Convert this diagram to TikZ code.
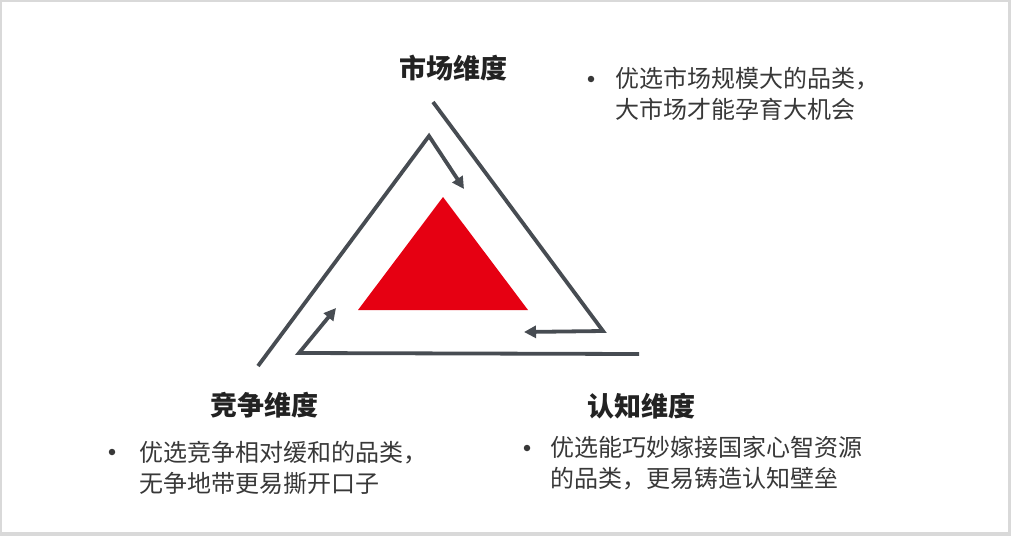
\documentclass[tikz,border=0pt]{standalone}
\usepackage{fontspec}
\setmainfont{Noto Sans CJK SC}
\usepackage{tikz}
\usetikzlibrary{arrows.meta}
\usepackage{xcolor}
\definecolor{lineGray}{HTML}{474C52}
\definecolor{coreRed}{HTML}{E60012}
\definecolor{frameGray}{HTML}{D9D9D9}
\definecolor{titleInk}{HTML}{222222}
\definecolor{bodyInk}{HTML}{383838}
\tikzset{
    flow/.style={
        draw=lineGray,
        line width=3.8pt,
        -{Triangle[length=12pt, width=12pt]}
    },
    dimtitle/.style={
        font=\bfseries\fontsize{27}{30}\selectfont,
        text=titleInk,
        inner sep=0pt
    },
    dimtext/.style={
        font=\fontsize{24}{30.5}\selectfont,
        text=bodyInk,
        align=left,
        anchor=west,
        inner sep=0pt
    },
    dot/.style={
        circle,
        fill=bodyInk,
        minimum size=6.5pt,
        inner sep=0pt
    }
}

\begin{document}
\begin{tikzpicture}[x=1pt, y=-1pt]
  % Frame
  \fill[frameGray] (0,0) rectangle (1011,536);
  \fill[white] (1.7,1.5) rectangle (1007.5,532.3);
  \useasboundingbox (0,0) rectangle (1011,536);

  % Corner points of the three arrows
  \coordinate (mStart) at (433,102);
  \coordinate (mBend) at (603,331);
  \coordinate (mEnd) at (524,332);
  \coordinate (rStart) at (639,354);
  \coordinate (rBend) at (299,353);
  \coordinate (rEnd) at (336,308);
  \coordinate (cStart) at (258,366);
  \coordinate (cBend) at (429,136);
  \coordinate (cEnd) at (464,189);

  % Arrows
  \draw[flow] (mStart) -- (mBend) -- (mEnd);
  \draw[flow] (rStart) -- (rBend) -- (rEnd);
  \draw[flow] (cStart) -- (cBend) -- (cEnd);

  % Red core
  \fill[coreRed] (443,197) -- (358,310) -- (528,310) -- cycle;

  % Market dimension
  \node[dimtitle] (market) at (453,68) {市场维度};
  \node[dot] (marketDot) at (591,79) {};
  \node[dimtext] (marketText) at (615,94) {优选市场规模大的品类，\\大市场才能孕育大机会};

  % Competition dimension
  \node[dimtitle] (compete) at (264,405) {竞争维度};
  \node[dot] (competeDot) at (112,452) {};
  \node[dimtext] (competeText) at (139,468) {优选竞争相对缓和的品类，\\无争地带更易撕开口子};

  % Cognition dimension
  \node[dimtitle] (cognize) at (641,406) {认知维度};
  \node[dot] (cognizeDot) at (527,448) {};
  \node[dimtext] (cognizeText) at (550,463) {优选能巧妙嫁接国家心智资源\\的品类，更易铸造认知壁垒};
\end{tikzpicture}
\end{document}
